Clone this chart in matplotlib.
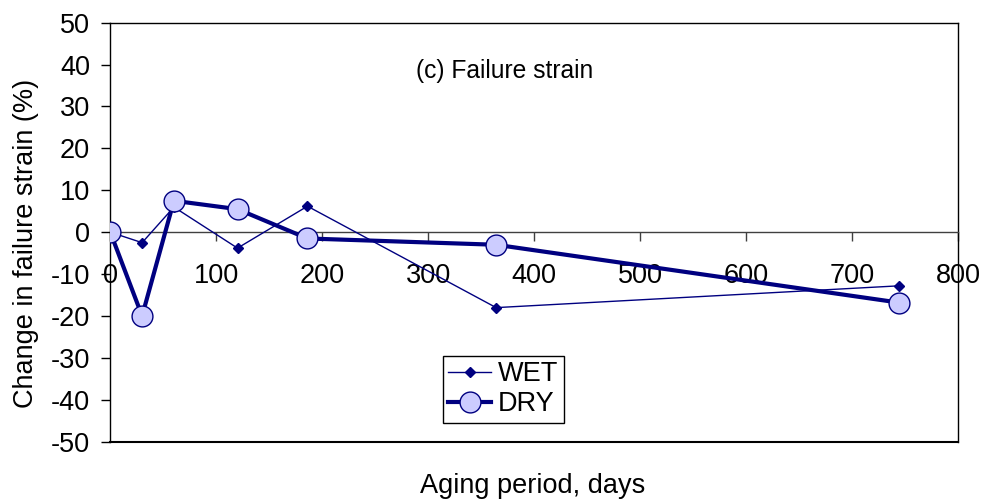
import matplotlib
matplotlib.use("Agg")
import matplotlib.pyplot as plt

# aging period (days) and change in failure strain (%)
days_wet = [0, 30, 60, 120, 186, 364, 744]
strain_wet = [0, -2.5, 6.0, -3.8, 6.2, -18.0, -12.8]
days_dry = [0, 30, 60, 120, 186, 364, 744]
strain_dry = [0, -20.0, 7.5, 5.5, -1.5, -3.0, -16.8]

plt.rcParams["font.family"] = ["Liberation Sans", "DejaVu Sans"]
plt.rcParams["axes.unicode_minus"] = False
fs = 19.5

fig = plt.figure(figsize=(9.84, 5.04), dpi=100)
ax = fig.add_axes([0.1121, 0.1236, 0.9739 - 0.1121, 0.955 - 0.1236])

navy = "#000080"
ax.plot(days_wet, strain_wet, color=navy, lw=1.0, marker="D", ms=5,
        mfc=navy, mec=navy, label="WET", zorder=3)
ax.plot(days_dry, strain_dry, color=navy, lw=3.0, marker="o", ms=15,
        mfc="#CCCCFF", mec=navy, mew=1.0, label="DRY", zorder=4)

ax.set_xlim(0, 800)
ax.set_ylim(-50, 50)
ax.set_yticks(range(-50, 51, 10))
ax.set_xticks(range(0, 801, 100))

# x axis drawn through zero, frame kept around the plot
ax.spines["bottom"].set_position(("data", 0))
ax.spines["bottom"].set_color("#404040")
ax.spines["bottom"].set_linewidth(1.0)
for s in ["left", "top", "right"]:
    ax.spines[s].set_color("black")
    ax.spines[s].set_linewidth(1.0)
ax.axhline(-50, color="black", lw=1.5, clip_on=False)

ax.tick_params(axis="x", direction="out", length=6.5, width=1.0,
               pad=16, labelsize=fs, color="#404040")
ax.tick_params(axis="y", direction="out", length=6.5, width=1.0,
               pad=8, labelsize=fs)

ax.set_ylabel("Change in failure strain (%)", fontsize=fs)
ax.yaxis.set_label_coords(-0.084, 0.472)
fig.text(0.541, 0.035, "Aging period, days", fontsize=fs,
         ha="center", va="center")

ax.text(372, 38.5, "(c) Failure strain", fontsize=17.7, ha="center", va="center")

leg = ax.legend(loc="upper left", bbox_to_anchor=(0.4499, 0.2942),
                bbox_transform=fig.transFigure, borderaxespad=0,
                fontsize=fs, fancybox=False, framealpha=1,
                edgecolor="black", handlelength=1.6, labelspacing=0.15,
                borderpad=0.2, handletextpad=0.25)
leg.get_frame().set_linewidth(1.0)

fig.savefig("out.png", dpi=100)
